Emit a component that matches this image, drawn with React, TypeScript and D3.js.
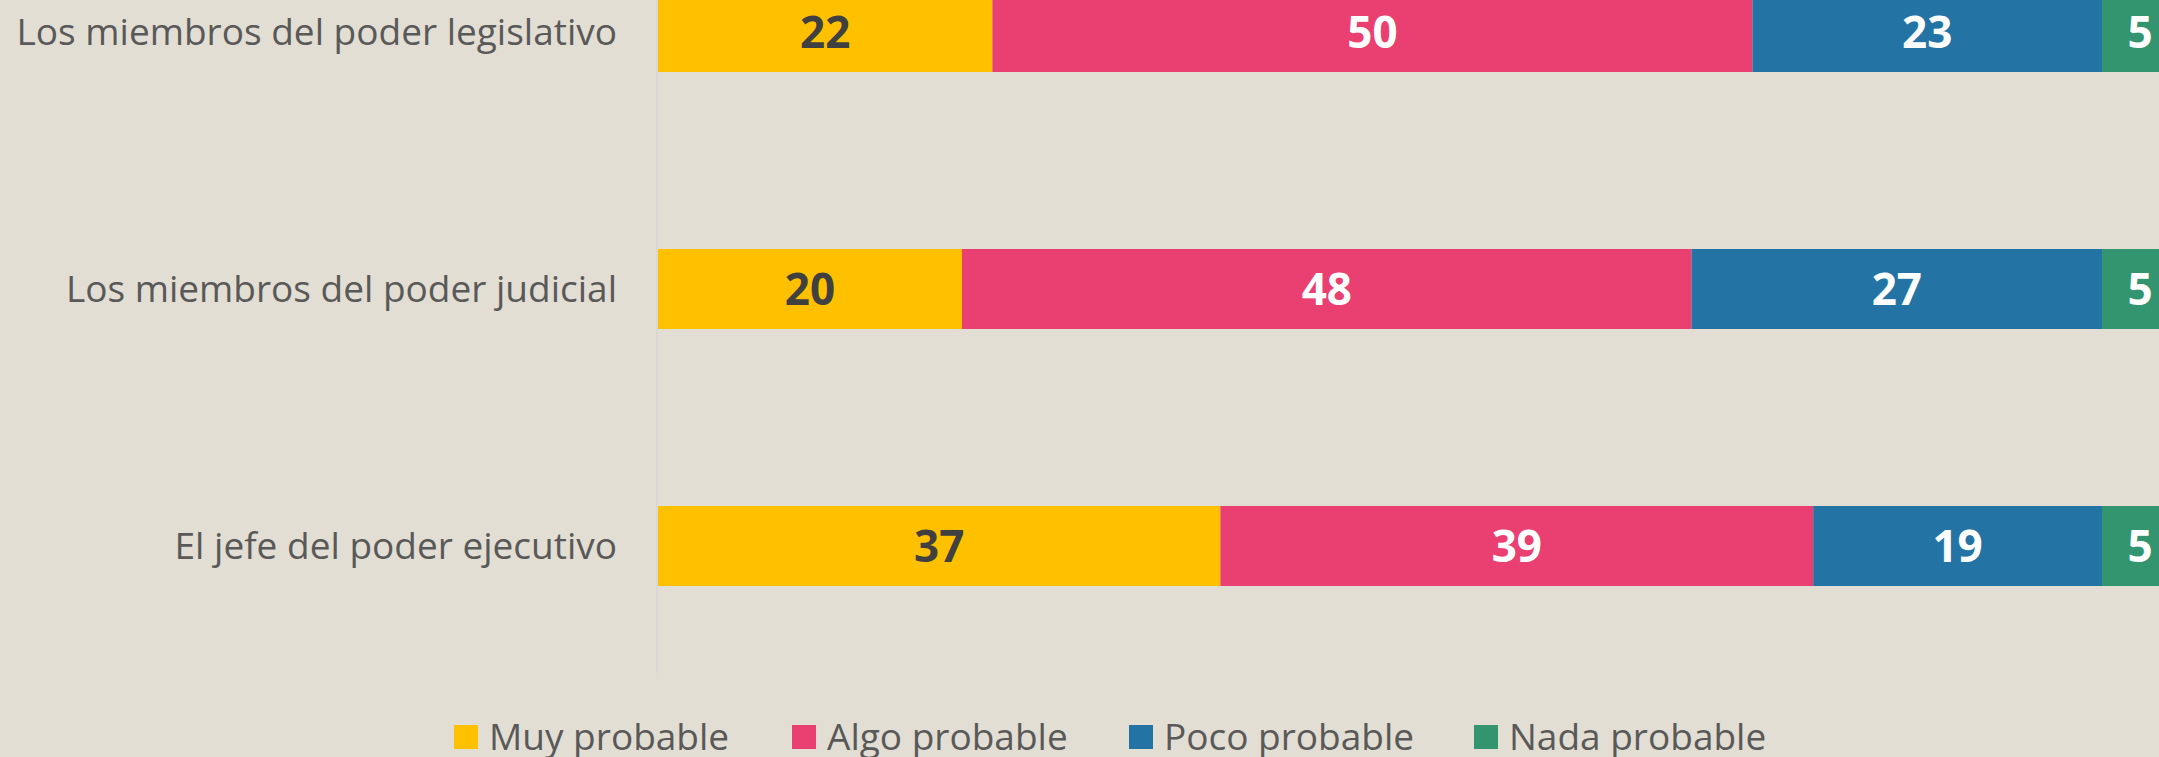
import * as d3 from 'd3'

const categories = [
  'Los miembros del poder legislativo',
  'Los miembros del poder judicial',
  'El jefe del poder ejecutivo',
]
const seriesNames = ['Muy probable', 'Algo probable', 'Poco probable', 'Nada probable']
const muyProbable = [22, 20, 37]
const algoProbable = [50, 48, 39]
const pocoProbable = [23, 27, 19]
const nadaProbable = [5, 5, 5]

const colors = ['#FFC000', '#E93F71', '#2374A4', '#33956F']
const labelColors = ['#404040', '#FFFFFF', '#FFFFFF', '#FFFFFF']

const W = 2159
const H = 757

export default function App() {
  const series = [muyProbable, algoProbable, pocoProbable, nadaProbable]
  const rows = categories.map((c, i) => {
    const row: Record<string, number | string> = { cat: c }
    seriesNames.forEach((s, k) => (row[s] = series[k][i]))
    return row
  })
  const stacked = d3.stack<any>().keys(seriesNames)(rows)

  const x = d3.scaleLinear().domain([0, 100]).range([658, 2178])
  const step = 257
  const pad = 1 - 80 / step
  const top = -8 - (step * pad) / 2
  const y = d3
    .scaleBand()
    .domain(categories)
    .range([top, top + step * categories.length])
    .paddingInner(pad)
    .paddingOuter(pad / 2)

  // legend layout
  const legendX = [454, 792, 1129, 1474]

  return (
    <svg
      width={W}
      height={H}
      style={{ position: 'fixed', left: 0, top: 0, background: '#E3DED3' }}
      fontFamily="'Open Sans', sans-serif"
    >
      <rect width={W} height={H} fill="#E3DED3" />
      <line x1={657} x2={657} y1={0} y2={673} stroke="#D6D6D6" strokeWidth={1.5} />

      {stacked.map((s, k) => (
        <g key={s.key} fill={colors[k]}>
          {s.map((d, i) => (
            <rect
              key={i}
              x={x(d[0])}
              y={y(categories[i])}
              width={x(d[1]) - x(d[0])}
              height={y.bandwidth()}
            />
          ))}
        </g>
      ))}

      {stacked.map((s, k) => (
        <g key={s.key + 'l'}>
          {s.map((d, i) => (
            <text
              key={i}
              x={(x(d[0]) + x(d[1])) / 2}
              y={(y(categories[i]) ?? 0) + y.bandwidth() / 2}
              dy="0.36em"
              textAnchor="middle"
              fontWeight="bold"
              fontSize={44}
              fill={labelColors[k]}
            >
              {d[1] - d[0]}
            </text>
          ))}
        </g>
      ))}

      {categories.map(c => (
        <text
          key={c}
          x={617}
          y={(y(c) ?? 0) + y.bandwidth() / 2}
          dy="0.36em"
          textAnchor="end"
          fontSize={37}
          fill="#595959"
        >
          {c}
        </text>
      ))}

      {seriesNames.map((s, k) => (
        <g key={s} transform={`translate(${legendX[k]},737)`}>
          <rect x={0} y={-12} width={24} height={24} fill={colors[k]} />
          <text x={35} y={0} dy="0.36em" fontSize={37} fill="#595959">
            {s}
          </text>
        </g>
      ))}
    </svg>
  )
}
